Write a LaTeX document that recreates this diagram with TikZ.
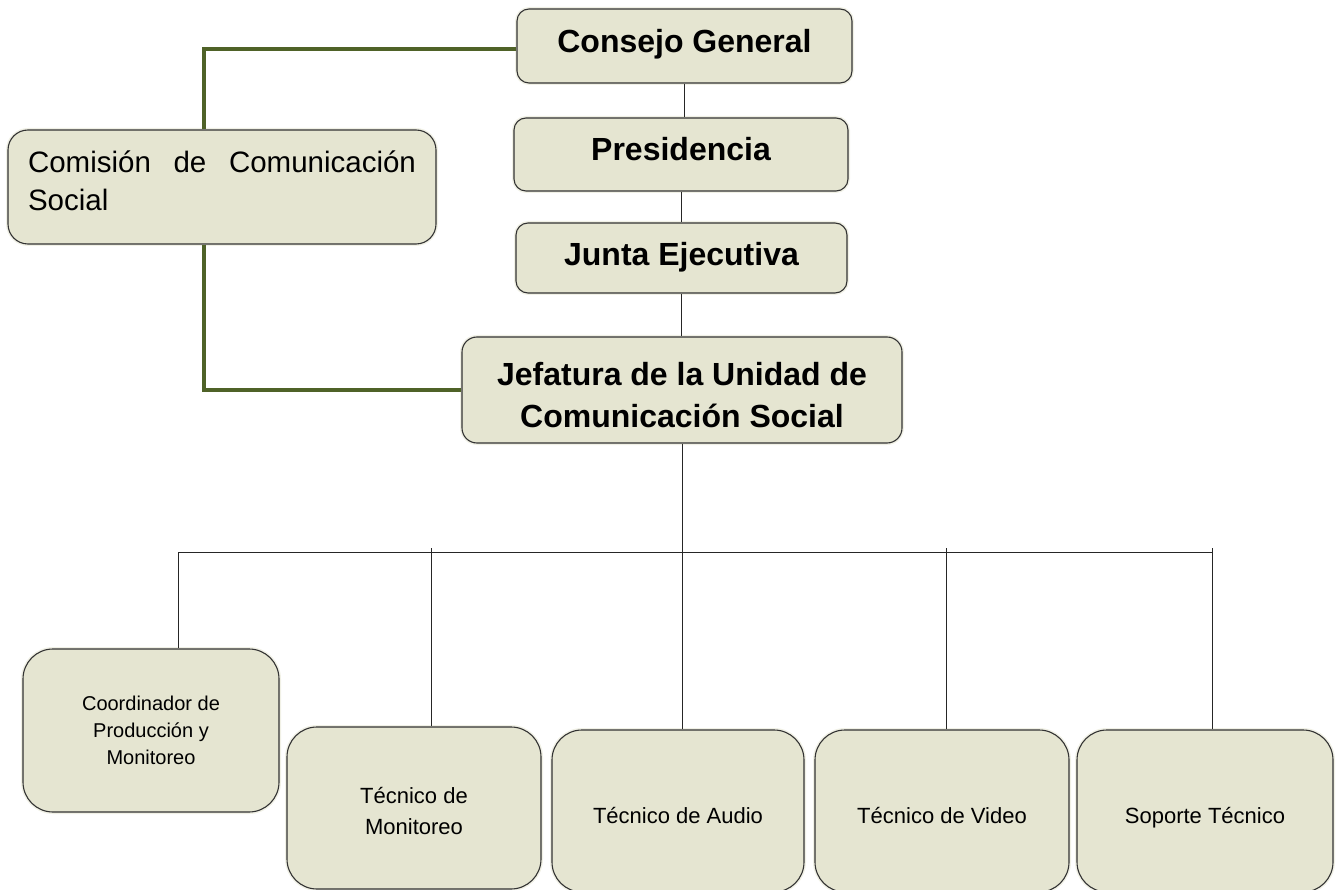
\documentclass[tikz,border=0pt]{standalone}
\usepackage{fontspec}
\setmainfont{Liberation Sans}
\definecolor{boxfill}{RGB}{229,229,209}
\definecolor{olivedark}{RGB}{79,98,40}
\tikzset{
  boxbase/.style={draw=black!80, line width=1.1pt, fill=boxfill, inner sep=0pt,
    preaction={draw=boxfill!55, line width=4pt}},
  headbox/.style={boxbase, rounded corners=12pt, align=center,
    font=\fontsize{32}{42}\selectfont\bfseries},
  staffbox/.style={boxbase, rounded corners=30pt, minimum width=254, minimum height=162,
    align=center, font=\fontsize{22}{31}\selectfont},
  oneline/.style={text height=24pt, text depth=0pt},
  link/.style={draw=black!85, line width=0.9pt},
  greenlink/.style={draw=olivedark, line width=4pt}
}
\begin{document}
\begin{tikzpicture}[x=1pt,y=-1pt]

\useasboundingbox (0,0) rectangle (1338,890);

\node[headbox, minimum width=335, minimum height=74, text height=23pt, text depth=10pt] (cg) at (684.5,46) {Consejo General};
\node[headbox, minimum width=334, minimum height=73, text height=23pt, text depth=10pt] (pres) at (681,154.5) {Presidencia};
\node[headbox, minimum width=331, minimum height=70, text height=23pt, text depth=8pt] (junta) at (681.5,258) {Junta Ejecutiva};
\node[headbox, minimum width=440, minimum height=106, rounded corners=15pt] (jef) at (682,390) {\rule{0pt}{33pt}Jefatura de la Unidad de\\Comunicación Social};
\node[boxbase, rounded corners=20pt, minimum width=428, minimum height=114, text width=388, align=left,
  font=\fontsize{29.5}{38}\selectfont] (com) at (222,187) {Comisión\hfill de\hfill Comunicación\\Social\rule[-12pt]{0pt}{12pt}};

\node[staffbox, minimum width=256, minimum height=163, font=\fontsize{20}{27}\selectfont] (coord) at (151,730.5) {Coordinador de\\Producción y\\Monitoreo};
\node[staffbox] (tmon) at (414,808) {\rule{0pt}{22pt}Técnico de\\Monitoreo};
\node[staffbox, oneline, minimum width=252] (taud) at (678,811) {Técnico de Audio};
\node[staffbox, oneline] (tvid) at (942,811) {Técnico de Video};
\node[staffbox, oneline, minimum width=256] (sop) at (1205,811) {Soporte Técnico};

\coordinate (busl) at (178,552);
\coordinate (busr) at (1212,552);
\coordinate (drop1) at (178,552);
\coordinate (drop2) at (431,548);
\coordinate (drop3) at (682,552);
\coordinate (drop4) at (946,548);
\coordinate (drop5) at (1212,548);

\draw[link] (cg.south) -- (cg.south |- pres.north);
\draw[link] (pres.south) -- (pres.south |- junta.north);
\draw[link] (junta.south) -- (junta.south |- jef.north);
\draw[link] (jef.south) -- (jef.south |- busl);
\draw[link] (busl) -- (busr);
\foreach \i/\n in {1/coord,2/tmon,3/taud,4/tvid,5/sop}
  \draw[link] (drop\i) -- (drop\i |- \n.north);

\draw[greenlink] ([yshift=-3pt]cg.west) -| ([xshift=-18pt]com.north);
\draw[greenlink] ([xshift=-18pt]com.south) |- (jef.west);

\end{tikzpicture}
\end{document}
